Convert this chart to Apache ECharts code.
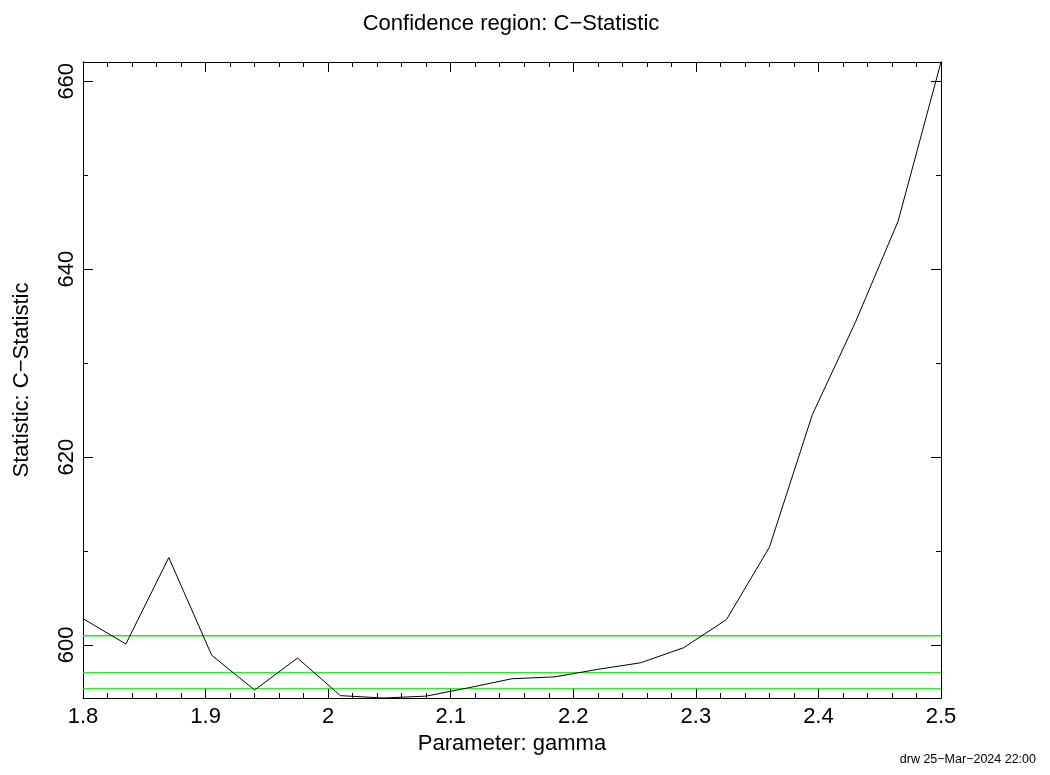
<!DOCTYPE html>
<html>
<head>
<meta charset="utf-8">
<script src="https://cdn.jsdelivr.net/npm/echarts@6/dist/echarts.min.js"></script>
<style>html,body{margin:0;padding:0;background:#fff}#c{width:1050px;height:775px}</style>
</head>
<body>
<div id="c"></div>
<script>
const gammaValues = [1.8, 1.835, 1.87, 1.905, 1.94, 1.975, 2.01, 2.045, 2.08, 2.115, 2.15, 2.185, 2.22, 2.255, 2.29, 2.325, 2.36, 2.395, 2.43, 2.465, 2.5];
const statValues = [602.8, 600.1, 609.3, 598.9, 595.2, 598.6, 594.6, 594.35, 594.55, 595.45, 596.4, 596.6, 597.4, 598.1, 599.7, 602.7, 610.4, 624.5, 634.3, 645.1, 662.05];
const levelValues = [600.98, 597.06, 595.35];
const levelWidths = [1.5, 1, 1];
const xTicks = [1.8, 1.9, 2.0, 2.1, 2.2, 2.3, 2.4, 2.5];
const yMajorTicks = [600, 620, 640, 660];
const yMinorTicks = [610, 630, 650];
const yMin = 594.35, yMax = 662.05;

const font = 'Liberation Sans, Arial, Helvetica, sans-serif';
const chart = echarts.init(document.getElementById('c'), null, {renderer: 'canvas'});

const axisLine = {show: true, lineStyle: {color: '#000', width: 1}};
function xAxisDef(pos, labels) {
  return {
    type: 'value', position: pos, min: 1.8, max: 2.5, interval: 0.1,
    axisLine: axisLine,
    axisTick: {show: true, inside: true, length: 10, lineStyle: {color: '#000'}},
    minorTick: {show: true, splitNumber: 5, length: 5, lineStyle: {color: '#000'}},
    splitLine: {show: false}, minorSplitLine: {show: false},
    axisLabel: labels ? {
      show: true, fontSize: 22, color: '#000', fontFamily: font, margin: 8,
      customValues: xTicks,
      formatter: v => String(Math.round(v * 10) / 10)
    } : {show: false},
    name: labels ? 'Parameter: gamma' : '',
    nameLocation: 'middle', nameGap: 34,
    nameTextStyle: {fontSize: 22, color: '#000', fontFamily: font}
  };
}
function yAxisDef(pos, ticks, len, labels) {
  return {
    type: 'value', position: pos, min: yMin, max: yMax,
    axisLine: axisLine,
    axisTick: {show: true, inside: true, length: len, customValues: ticks, lineStyle: {color: '#000'}},
    splitLine: {show: false},
    axisLabel: labels ? {
      show: true, fontSize: 22, color: '#000', fontFamily: font, rotate: 90, margin: 5,
      customValues: ticks
    } : {show: false},
    name: labels ? 'Statistic: C\u2212Statistic' : '',
    nameLocation: 'middle', nameGap: 50,
    nameTextStyle: {fontSize: 22, color: '#000', fontFamily: font}
  };
}

const series = [{
  type: 'line', xAxisIndex: 0, yAxisIndex: 0,
  data: gammaValues.map((g, i) => [g, statValues[i]]),
  showSymbol: false, symbol: 'none',
  lineStyle: {color: '#000', width: 1}, z: 5, animation: false
}];
levelValues.forEach((lv, i) => {
  series.push({
    type: 'line', xAxisIndex: 0, yAxisIndex: 0,
    data: [[1.8, lv], [2.5, lv]], symbol: 'none',
    lineStyle: {color: '#00ff00', width: levelWidths[i]}, z: 3, animation: false
  });
});

chart.setOption({
  animation: false,
  backgroundColor: '#fff',
  title: [{
    text: 'Confidence region: C\u2212Statistic', left: 506, top: 8, textAlign: 'center',
    textStyle: {fontSize: 22, fontWeight: 'normal', color: '#000', fontFamily: font}
  }, {
    text: 'drw 25\u2212Mar\u22122024 22:00', right: 9, bottom: 4,
    textStyle: {fontSize: 12.5, fontWeight: 'normal', color: '#000', fontFamily: font}
  }],
  grid: {left: 83, right: 109, top: 62, bottom: 77, containLabel: false},
  xAxis: [xAxisDef('bottom', true), xAxisDef('top', false)],
  yAxis: [
    yAxisDef('left', yMajorTicks, 10, true),
    yAxisDef('left', yMinorTicks, 5, false),
    yAxisDef('right', yMajorTicks, 10, false),
    yAxisDef('right', yMinorTicks, 5, false)
  ],
  series: series
});
</script>
</body>
</html>
